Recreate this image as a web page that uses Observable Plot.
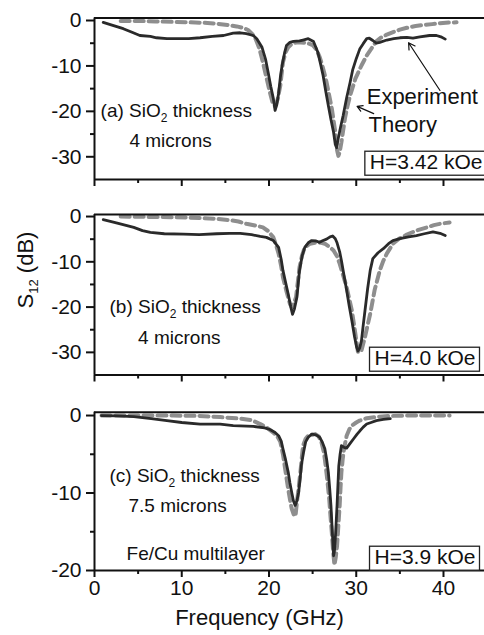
<!DOCTYPE html>
<html>
<head>
<meta charset="utf-8">
<script src="https://cdn.jsdelivr.net/npm/d3@7"></script>
<script src="https://cdn.jsdelivr.net/npm/@observablehq/plot@0.6"></script>
<style>
  html, body { margin: 0; padding: 0; background: #fff; }
  #chart { position: relative; width: 484px; height: 635px; overflow: hidden; background: #fff;
           font-family: "Liberation Sans", Arial, sans-serif; }
  #chart svg { position: absolute; left: 0; }
</style>
</head>
<body>
<div id="chart"></div>
<script>
// ---------- data (frequency GHz, S12 dB) ----------
const xMajorTicks = [0, 10, 20, 30, 40];
const xMinorTicks = [5, 15, 25, 35];
const yMajorTicksAB = [0, -10, -20, -30];
const yMinorTicksAB = [-5, -15, -25];
const yMajorTicksC = [0, -10, -20];
const yMinorTicksC = [-5, -15];

const expA = [
[1.0,-0.4],[2.0,-1.0],[3.3,-1.8],[4.3,-2.6],[5.2,-3.3],[6.4,-3.5],[7.1,-3.8],[8.3,-4.0],[9.4,-4.0],[10.8,-4.0],
[12.1,-3.8],[13.5,-3.5],[14.8,-3.3],[15.9,-2.8],[16.7,-2.7],[17.4,-2.9],[18.2,-3.3],[18.6,-4.0],[19.2,-5.9],[19.6,-8.5],
[19.9,-11.4],[20.2,-14.5],[20.5,-17.2],[20.7,-19.8],[20.9,-18.5],[21.1,-16.0],[21.3,-12.5],[21.5,-9.9],[21.8,-7.0],[22.0,-5.5],
[22.4,-4.8],[22.8,-4.6],[23.5,-4.5],[23.9,-4.3],[24.5,-4.0],[25.1,-4.6],[25.6,-7.0],[25.9,-9.5],[26.2,-12.1],[26.5,-15.5],
[26.8,-18.7],[27.1,-21.8],[27.4,-24.6],[27.6,-27.3],[27.75,-28.0],[27.9,-26.3],[28.2,-23.5],[28.5,-20.9],[28.9,-17.0],[29.3,-13.6],
[29.6,-10.8],[30.0,-8.4],[30.4,-6.3],[30.8,-5.1],[31.2,-4.0],[31.5,-3.9],[31.9,-4.4],[32.3,-5.0],[32.7,-4.8],[33.5,-4.3],
[34.3,-4.0],[35.0,-3.8],[35.8,-3.7],[36.5,-3.9],[37.3,-3.6],[38.4,-3.3],[39.2,-3.3],[39.7,-3.6],[40.2,-4.1]
];
const theoA = [
[3.0,-0.1],[5.0,-0.1],[7.0,-0.2],[9.0,-0.3],[11.0,-0.4],[12.5,-0.5],[14.0,-0.7],[15.3,-1.0],[16.3,-1.3],[17.0,-1.6],
[17.6,-2.1],[18.1,-3.0],[18.5,-4.2],[18.9,-6.2],[19.3,-9.2],[19.7,-12.5],[20.1,-15.8],[20.4,-18.0],[20.7,-18.9],[21.0,-17.3],
[21.3,-14.3],[21.6,-9.2],[21.9,-7.0],[22.2,-5.9],[22.7,-5.0],[23.3,-4.8],[24.3,-4.9],[25.0,-5.4],[25.4,-6.3],[25.8,-8.0],
[26.0,-9.2],[26.3,-11.3],[26.6,-13.6],[26.9,-16.5],[27.2,-19.4],[27.4,-22.0],[27.6,-24.6],[27.8,-28.5],[27.95,-29.8],[28.1,-29.0],
[28.3,-26.8],[28.7,-21.6],[29.0,-18.8],[29.3,-16.5],[29.9,-12.8],[30.6,-9.9],[31.2,-7.7],[31.8,-6.0],[32.3,-4.6],[32.8,-3.8],
[33.5,-3.1],[34.3,-2.5],[35.0,-2.0],[35.8,-1.6],[36.8,-1.2],[37.7,-1.0],[38.7,-0.8],[39.6,-0.6],[40.6,-0.45],[41.5,-0.4]
];
const expB = [
[1.0,-0.7],[2.5,-1.4],[4.5,-2.4],[5.5,-3.1],[6.4,-3.5],[8.0,-3.8],[10.2,-3.9],[12.0,-4.0],[14.0,-3.8],[15.5,-3.7],
[16.7,-3.7],[18.0,-4.0],[19.0,-4.4],[19.7,-4.6],[20.5,-5.3],[21.1,-6.8],[21.4,-9.5],[21.6,-11.9],[21.9,-14.5],[22.2,-17.1],
[22.5,-20.0],[22.7,-21.6],[22.9,-20.5],[23.2,-17.8],[23.5,-11.9],[23.8,-8.7],[24.1,-6.8],[24.5,-5.8],[24.9,-5.3],[25.4,-5.4],
[25.8,-5.7],[26.2,-5.3],[26.6,-5.0],[27.0,-4.5],[27.3,-4.3],[27.6,-4.9],[27.8,-5.8],[28.1,-7.8],[28.3,-9.7],[28.6,-13.0],
[28.9,-16.3],[29.2,-19.8],[29.5,-23.0],[29.8,-26.5],[30.05,-28.9],[30.2,-29.7],[30.4,-29.0],[30.6,-27.4],[30.8,-24.0],[31.0,-20.8],
[31.3,-16.0],[31.6,-11.9],[31.9,-9.3],[32.5,-8.0],[33.1,-7.1],[33.7,-6.0],[34.2,-5.3],[35.0,-4.9],[36.0,-4.5],[36.9,-4.2],
[37.8,-3.8],[38.8,-3.4],[39.6,-3.7],[40.2,-4.2]
];
const theoB = [
[3.0,0],[5.0,-0.05],[7.0,-0.1],[9.0,-0.15],[11.0,-0.25],[12.5,-0.35],[14.0,-0.5],[15.5,-0.8],[16.5,-1.1],[17.4,-1.6],
[18.5,-2.0],[19.3,-2.4],[19.9,-3.2],[20.5,-4.6],[20.8,-6.2],[21.1,-8.2],[21.4,-11.0],[21.6,-13.4],[22.0,-16.5],[22.4,-19.3],
[22.6,-20.0],[22.85,-19.2],[23.1,-17.8],[23.3,-14.5],[23.5,-11.2],[23.8,-8.5],[24.1,-6.8],[24.7,-6.0],[25.5,-5.7],[26.0,-5.8],
[26.4,-6.0],[27.0,-6.8],[27.4,-7.5],[27.8,-8.8],[28.1,-10.4],[28.5,-13.0],[28.9,-15.6],[29.2,-18.2],[29.5,-20.8],[29.9,-25.9],
[30.2,-30.0],[30.6,-29.6],[31.0,-26.6],[31.3,-24.0],[31.6,-21.5],[32.1,-16.3],[32.7,-11.9],[33.1,-9.8],[33.5,-8.2],[34.2,-6.0],
[34.9,-4.9],[35.8,-4.0],[36.9,-3.1],[38.1,-2.4],[38.9,-1.9],[39.6,-1.6],[40.7,-1.3]
];
const expC = [
[0.8,0],[2.5,-0.05],[4.5,-0.13],[6.5,-0.4],[8.3,-0.65],[10.0,-0.9],[12.1,-1.1],[14.4,-1.1],[15.9,-1.3],[18.2,-1.4],
[19.5,-1.6],[20.1,-1.8],[20.7,-2.2],[21.1,-2.6],[21.4,-3.3],[21.6,-4.3],[21.9,-5.7],[22.2,-7.3],[22.4,-8.7],[22.6,-9.9],
[22.8,-11.0],[23.0,-11.6],[23.2,-11.0],[23.4,-9.9],[23.6,-7.8],[23.7,-6.5],[23.95,-4.8],[24.2,-3.4],[24.5,-2.8],[24.9,-2.4],
[25.4,-2.5],[25.8,-2.8],[26.1,-3.4],[26.4,-4.3],[26.6,-5.6],[26.8,-7.3],[26.95,-9.3],[27.1,-11.6],[27.2,-13.8],[27.3,-15.9],
[27.4,-18.1],[27.5,-17.5],[27.6,-15.9],[27.7,-13.8],[27.8,-11.6],[27.9,-9.0],[28.0,-6.5],[28.15,-5.0],[28.3,-3.9],[28.6,-4.1],
[28.9,-4.2],[29.3,-3.6],[29.7,-3.0],[30.1,-2.4],[30.4,-2.0],[30.8,-1.5],[31.2,-1.1],[31.7,-0.9],[32.3,-0.65],[33.1,-0.5],[33.9,-0.4]
];
const theoC = [
[0.8,0],[3,0],[6,0],[9,0],[12,-0.05],[14.4,-0.2],[16.7,-0.4],[18.0,-0.6],[19.0,-1.1],[19.8,-1.6],
[20.5,-2.2],[21.0,-2.8],[21.3,-3.4],[21.6,-5.0],[21.8,-6.5],[22.0,-8.0],[22.2,-9.5],[22.4,-10.8],[22.6,-12.0],[22.9,-13.0],
[23.05,-12.8],[23.2,-11.2],[23.4,-9.3],[23.6,-7.3],[23.8,-5.0],[23.9,-3.9],[24.2,-3.0],[24.5,-2.6],[25.3,-2.4],[25.7,-2.7],
[26.0,-3.4],[26.3,-4.8],[26.5,-6.5],[26.7,-8.5],[26.9,-10.7],[27.05,-13.0],[27.2,-15.1],[27.35,-17.5],[27.5,-19.3],[27.65,-18.3],
[27.8,-16.8],[27.95,-14.2],[28.1,-11.6],[28.2,-9.3],[28.3,-7.3],[28.45,-5.6],[28.6,-4.3],[28.9,-2.6],[29.2,-1.8],[29.5,-1.3],
[30.0,-0.9],[30.4,-0.65],[31.2,-0.35],[32.5,-0.15],[34,-0.05],[36,0],[38,0],[40.7,0]
];

const panelLabels = ["(a) SiO2 thickness", "(b) SiO2 thickness", "(c) SiO2 thickness"];
const thicknessLabels = ["4 microns", "4 microns", "7.5 microns"];
const fieldLabels = ["H=3.42 kOe", "H=4.0 kOe", "H=3.9 kOe"];
const legendLabels = ["Experiment", "Theory"];
const sampleLabel = "Fe/Cu multilayer";
const xTitle = "Frequency (GHz)";

// ---------- styling ----------
const EXP_COLOR = "#2a2a2a";
const THEO_COLOR = "#8e8e8e";
const INK = "#111";
const FONT = "'Liberation Sans', Arial, Helvetica, sans-serif";
const xDomain = [0, 44.7];
const chart = document.getElementById("chart");

function panel(o) {
  const yDomain = o.yDomain;
  const marks = [
    Plot.line(o.theo, {x: d => d[0], y: d => d[1], stroke: THEO_COLOR, strokeWidth: 4, strokeDasharray: "9,5"}),
    Plot.line(o.exp, {x: d => d[0], y: d => d[1], stroke: EXP_COLOR, strokeWidth: 2.8, strokeLinejoin: "round"}),
    Plot.ruleX([xDomain[0]], {stroke: INK, strokeWidth: 2}),
    Plot.ruleY(yDomain, {stroke: INK, strokeWidth: 2}),
    Plot.axisY({ticks: o.yMajor, tickSize: 8, tickPadding: 5, tickFormat: d => String(d), fontSize: 21, strokeWidth: 2, label: null}),
    Plot.axisY({ticks: o.yMinor, tickSize: 4, tickFormat: () => "", strokeWidth: 2, label: null}),
    Plot.axisX({ticks: xMajorTicks, tickSize: 7, tickPadding: 3, tickFormat: o.xLabels ? d => String(d) : () => "", fontSize: 21, strokeWidth: 2, label: null}),
    Plot.axisX({ticks: xMinorTicks, tickSize: 4, tickFormat: () => "", strokeWidth: 2, label: null}),
    ...o.extras
  ];
  const svg = Plot.plot({
    width: 484, height: o.height,
    marginTop: o.marginTop, marginBottom: o.marginBottom, marginLeft: 94, marginRight: 0,
    x: {domain: xDomain}, y: {domain: yDomain},
    style: {fontFamily: FONT, fontSize: "20px", color: INK, background: "transparent", overflow: "visible"},
    marks
  });
  svg.style.top = o.top + "px";
  chart.appendChild(svg);
  decorate(svg);
  return svg;
}

// subscript for SiO2 and boxes around field labels
function decorate(svg) {
  svg.querySelectorAll("text").forEach(t => {
    const s = t.textContent;
    if (s.includes("SiO2")) {
      const [pre, post] = s.split("SiO2");
      const sel = d3.select(t);
      sel.text(null);
      sel.append("tspan").text(pre + "SiO");
      sel.append("tspan").attr("font-size", 12).attr("dy", 5).text("2");
      sel.append("tspan").attr("dy", -5).text(post);
    }
  });
  svg.querySelectorAll("text").forEach(t => {
    if (fieldLabels.includes(t.textContent)) {
      const sb = svg.getBoundingClientRect();
      const b = t.getBoundingClientRect();
      let g = t;
      while (g.parentNode && g.parentNode !== svg) g = g.parentNode;
      const r = document.createElementNS("http://www.w3.org/2000/svg", "rect");
      r.setAttribute("x", b.left - sb.left - 5);
      r.setAttribute("y", b.top - sb.top + 1);
      r.setAttribute("width", b.width + 9);
      r.setAttribute("height", b.height + 1);
      r.setAttribute("fill", "#fff");
      r.setAttribute("stroke", "#222");
      r.setAttribute("stroke-width", 1.3);
      svg.insertBefore(r, g);
    }
  });
}

const txt = (label, x, y, size) => Plot.text([label], {x, y, text: d => d, textAnchor: "start", fontSize: size, fill: INK});
const fieldTxt = (label, dx, dy) => Plot.text([label], {frameAnchor: "bottom-right", dx, dy, text: d => d, textAnchor: "end", lineAnchor: "middle", fontSize: 21, fill: INK});

// Panel (a)
panel({
  top: 0, height: 192, marginTop: 17.5, marginBottom: 13,
  yDomain: [-35, 0.55], yMajor: yMajorTicksAB, yMinor: yMinorTicksAB,
  exp: expA, theo: theoA, xLabels: false,
  extras: [
    txt(panelLabels[0], 0.7, -19.8, 19),
    txt(thicknessLabels[0], 4.0, -26.4, 19),
    txt(legendLabels[0], 31.2, -16.9, 22),
    txt(legendLabels[1], 31.4, -23.1, 22),
    Plot.arrow([0], {x1: 39.6, y1: -15.4, x2: 36.0, y2: -4.9, stroke: INK, strokeWidth: 1.2, headLength: 9}),
    Plot.arrow([0], {x1: 32.0, y1: -20.5, x2: 30.1, y2: -18.9, stroke: INK, strokeWidth: 1.2, headLength: 8}),
    fieldTxt(fieldLabels[0], -2, -17)
  ]
});

// Panel (b)
panel({
  top: 200, height: 190, marginTop: 14, marginBottom: 15.5,
  yDomain: [-35, 0.45], yMajor: yMajorTicksAB, yMinor: yMinorTicksAB,
  exp: expB, theo: theoB, xLabels: false,
  extras: [
    txt(panelLabels[1], 1.72, -20.0, 19),
    txt(thicknessLabels[1], 5.0, -26.9, 19),
    fieldTxt(fieldLabels[1], -9, -16.5)
  ]
});

// Panel (c)
panel({
  top: 395, height: 240, marginTop: 16.7, marginBottom: 65,
  yDomain: [-20, 0.43], yMajor: yMajorTicksC, yMinor: yMinorTicksC,
  exp: expC, theo: theoC, xLabels: true,
  extras: [
    txt(panelLabels[2], 1.72, -7.74, 19),
    txt(thicknessLabels[2], 3.9, -11.6, 19),
    txt(sampleLabel, 3.67, -17.8, 19),
    fieldTxt(fieldLabels[2], -9, -13),
    Plot.text([xTitle], {frameAnchor: "bottom", dx: -30, dy: 47, lineAnchor: "middle", text: d => d, fontSize: 22, fill: INK})
  ]
});

// y-axis title overlay: S12 (dB)
const ov = d3.select(chart).append("svg")
  .attr("width", 484).attr("height", 635)
  .style("top", "0px").style("pointer-events", "none");
const yt = ov.append("text")
  .attr("transform", "translate(33,270) rotate(-90)")
  .attr("text-anchor", "middle")
  .attr("font-family", FONT).attr("font-size", 22).attr("fill", INK);
yt.append("tspan").text("S");
yt.append("tspan").attr("font-size", 13).attr("dy", 5).text("12");
yt.append("tspan").attr("dy", -5).text(" (dB)");
</script>
</body>
</html>
